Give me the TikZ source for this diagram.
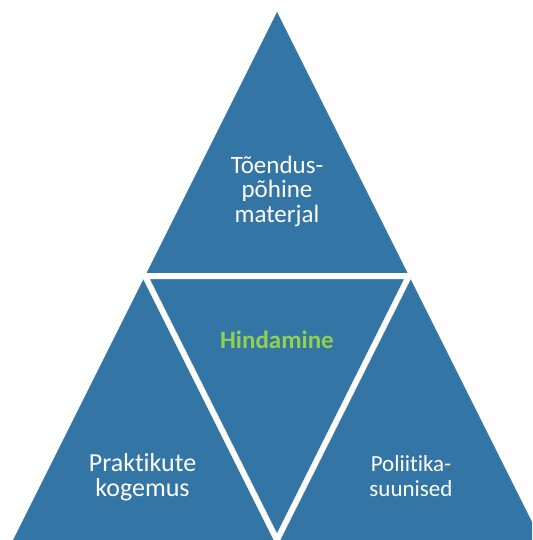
\documentclass[tikz,border=0pt]{standalone}
\usepackage{fontspec}
\setmainfont{Carlito}[Ligatures={NoCommon}]
\definecolor{triblue}{RGB}{51,117,165}
\definecolor{hgreen}{RGB}{146,208,80}
\begin{document}
\begin{tikzpicture}[x=1pt,y=-1pt]
    \useasboundingbox (0,0) rectangle (532,540);
    \clip (0,0) rectangle (532,540);

    \coordinate(apex) at (277,12);
    \coordinate(baseleft) at (13,540);
    \coordinate(baseright) at (541,540);
    \coordinate(midleft) at (145,276);
    \coordinate(midright) at (409,276);
    \coordinate(midbottom) at (277,540);

    \fill[triblue] (apex) -- (baseleft) -- (baseright) -- cycle;
    \draw[white, line width=6pt] (midleft) -- (midright) -- (midbottom) -- cycle;

    \node(evidence)[text=white, align=center, font=\fontsize{25}{24.5}\selectfont] at (277,191) {Tõendus-\\põhine\\materjal};
    \node(assess)[text=hgreen, font=\fontsize{25}{25}\selectfont\bfseries] at (277,340) {Hindamine};
    \node(practice)[text=white, align=center, font=\fontsize{26}{24.5}\selectfont] at (142.5,477) {Praktikute\\kogemus};
    \node(policy)[text=white, align=center, font=\fontsize{23}{25}\selectfont] at (411,476.5) {Poliitika-\\suunised};
    % \draw[red] (midleft) -- (midbottom);
\end{tikzpicture}
\end{document}
